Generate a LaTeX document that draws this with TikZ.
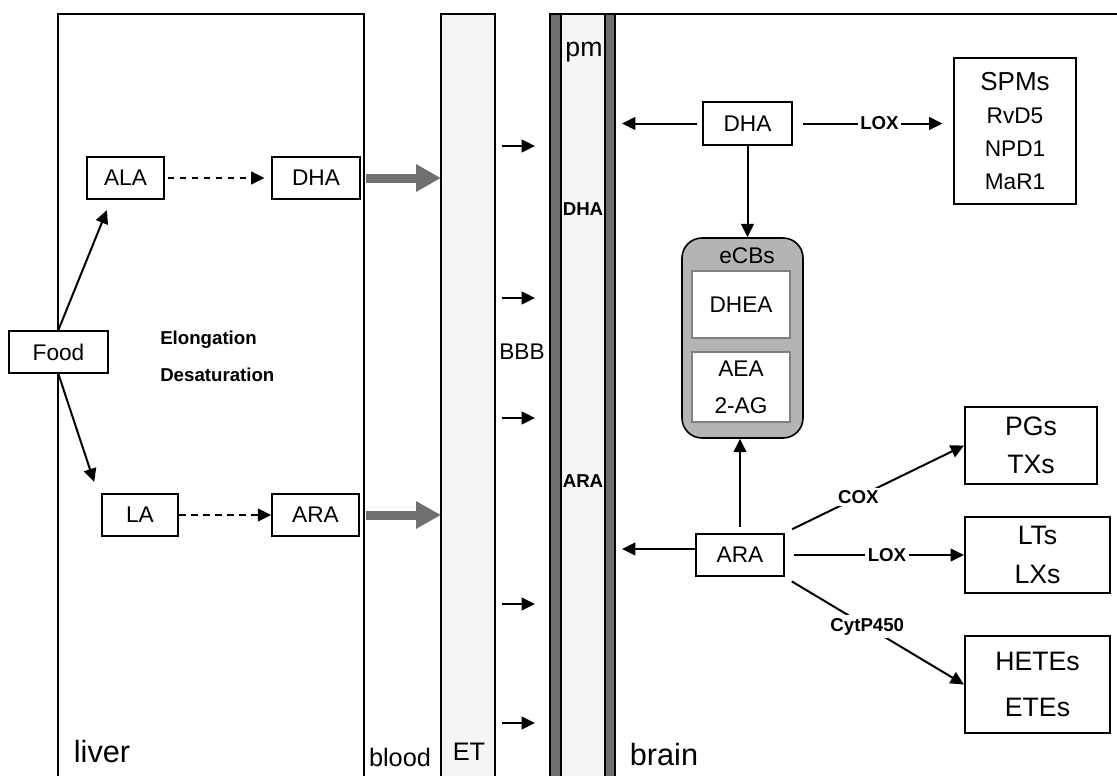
\documentclass[tikz,border=0pt]{standalone}
\usepackage{fontspec}
\setmainfont{Liberation Sans}
\usetikzlibrary{arrows.meta}

\definecolor{bargray}{RGB}{110,110,110}
\definecolor{palegray}{RGB}{245,245,245}
\definecolor{ecbgray}{RGB}{180,180,180}
\definecolor{boxgray}{RGB}{128,128,128}
\definecolor{fluxgray}{RGB}{112,112,112}

\tikzset{
  box/.style={draw, line width=1.4pt, fill=white, minimum height=32pt, inner sep=2pt,
    font=\fontsize{17}{20}\selectfont},
  inbox/.style={draw=boxgray, line width=1.5pt, fill=white, minimum width=73.5pt, inner sep=2pt,
    font=\fontsize{17}{20}\selectfont},
  enzyme/.style={fill=white, inner sep=2pt, font=\bfseries\fontsize{14}{16}\selectfont},
  flux/.style={draw=fluxgray, line width=6.75pt, -{Triangle[length=18.75pt,width=19.5pt]}},
}

\begin{document}
\begin{tikzpicture}[x=0.75pt, y=-0.75pt, >={Triangle[length=10pt,width=9.5pt]}]
    \useasboundingbox (0,0) rectangle (1117,775);

    % compartments
    \draw[line width=1.3pt] (58,780) -- (58,14) -- (364,14) -- (364,780);
    \filldraw[fill=palegray, line width=1.3pt] (441,780) -- (441,14) -- (495,14) -- (495,780);
    \filldraw[fill=palegray, line width=1pt] (561,14) rectangle (605,780);
    \filldraw[fill=bargray, line width=1pt] (550,14) rectangle (561,780);
    \filldraw[fill=bargray, line width=1pt] (605,14) rectangle (615,780);
    \draw[line width=1.3pt] (550,14) -- (1117,14);

    \coordinate (livR) at (366,0);
    \coordinate (etL) at (441,0);
    \coordinate (pmR) at (622,0);

    \node[font=\fontsize{23}{26}\selectfont] (liverlbl) at (102,752) {liver};
    \node[font=\fontsize{19}{22}\selectfont] (bloodlbl) at (400,757) {blood};
    \node[font=\fontsize{19}{22}\selectfont] (etlbl) at (469,752) {ET};
    \node[font=\fontsize{23}{26}\selectfont] (brainlbl) at (664,755) {brain};
    \node[font=\fontsize{20}{22}\selectfont] (pmlbl) at (584,52) {pm};
    \node[font=\fontsize{17}{20}\selectfont] (bbblbl) at (522,352) {BBB};
    \node[enzyme, fill=none, inner sep=0pt] (pmdha) at (583,209) {DHA};
    \node[enzyme, fill=none, inner sep=0pt] (pmara) at (583,481) {ARA};
    \node[enzyme, fill=none, inner sep=0pt, anchor=west] (elong) at (160,340) {Elongation};
    \node[enzyme, fill=none, inner sep=0pt, anchor=west] (desat) at (160,375) {Desaturation};

    % liver
    \begin{scope}[every node/.style={box}]
        \node[minimum width=74pt] (food) at (58.5,352) {Food};
        \node[minimum width=58pt] (ala) at (125.5,178) {ALA};
        \node[minimum width=66pt] (dhaL) at (316,178) {DHA};
        \node[minimum width=57pt] (la) at (140,515) {LA};
        \node[minimum width=65pt] (araL) at (315.5,515) {ARA};
    \end{scope}

    % brain
    \begin{scope}[every node/.style={box}]
        \node[minimum width=67pt] (dhaB) at (747.5,123.5) {DHA};
        \node[minimum width=66pt] (araB) at (740,555) {ARA};
        \node[minimum width=91.5pt, minimum height=109pt, align=center,
              font=\fontsize{17}{24.5}\selectfont] (spm) at (1015,131)
              {{\fontsize{19.5}{24}\selectfont SPMs}\\[0.5pt]RvD5\\NPD1\\MaR1};
        \node[minimum width=99pt, minimum height=58pt, align=center,
              font=\fontsize{20}{28.5}\selectfont] (pgs) at (1031,445.5) {PGs\\TXs};
        \node[minimum width=109pt, minimum height=57pt, align=center,
              font=\fontsize{20}{29}\selectfont] (lts) at (1037.5,555) {LTs\\LXs};
        \node[minimum width=109pt, minimum height=73pt, align=center,
              font=\fontsize{20}{35}\selectfont] (hetes) at (1037.5,684.5) {HETEs\\ETEs};
    \end{scope}

    \node[draw, line width=1.2pt, fill=ecbgray, rounded corners=15pt,
          minimum width=90.75pt, minimum height=150pt] (ecbs) at (742.5,338) {};
    \node[font=\fontsize{17}{20}\selectfont] (ecbt) at (747,256) {eCBs};
    \node[inbox, minimum height=50pt] (dhea) at (741,304.5) {DHEA};
    \node[inbox, minimum height=52.5pt, align=center,
          font=\fontsize{17}{27.75}\selectfont] (aea) at (741,387) {AEA\\2-AG};

    \draw[flux] (dhaL.east -| livR) -- (dhaL.east -| etL);
    \draw[flux] (araL.east -| livR) -- (araL.east -| etL);

    \foreach \y [count=\i] in {146,298,418,604,723} {
        \coordinate (bs\i) at (502,\y);
        \coordinate (be\i) at (535,\y);
        \draw[->, line width=1.5pt] (bs\i) -- (be\i);
    }

    \begin{scope}[every edge/.style={draw, line width=1.5pt}]
        \path [->, shorten >=8pt] (food.north) edge ([xshift=18.75pt]ala.south west);
        \path [->, shorten >=8.5pt] (food.south) edge ([xshift=-2.5pt]la.north west);
        \path [->, dash pattern=on 5pt off 4pt, shorten <=2pt, shorten >=5pt] (ala) edge (dhaL);
        \path [->, dash pattern=on 5pt off 4pt] (la) edge (araL);

        \path [->, shorten <=4pt] (dhaB.west) edge (dhaB.west -| pmR);
        \path [->, shorten <=7.5pt, shorten >=8pt] (dhaB.east) edge node[enzyme, pos=0.54] {LOX} (dhaB.east -| spm.west);
        \path [->] (dhaB.south) edge (dhaB.south |- ecbs.north);

        \path [->, shorten <=4.5pt] (araB.north) edge (araB.north |- ecbs.south);
        \path [->] ([yshift=4.5pt]araB.west) edge ([yshift=4.5pt]araB.west -| pmR);
        \path [->, shorten <=6pt] (araB.north east) edge node[enzyme, pos=0.41] {COX} (pgs.west);
        \path [->, shorten <=6.5pt] (araB.east) edge node[enzyme, pos=0.57] {LOX} (lts.west);
        \path [->, shorten <=6pt] (araB.south east) edge node[enzyme, pos=0.46] {CytP450} (hetes.west);
    \end{scope}
\end{tikzpicture}
\end{document}
